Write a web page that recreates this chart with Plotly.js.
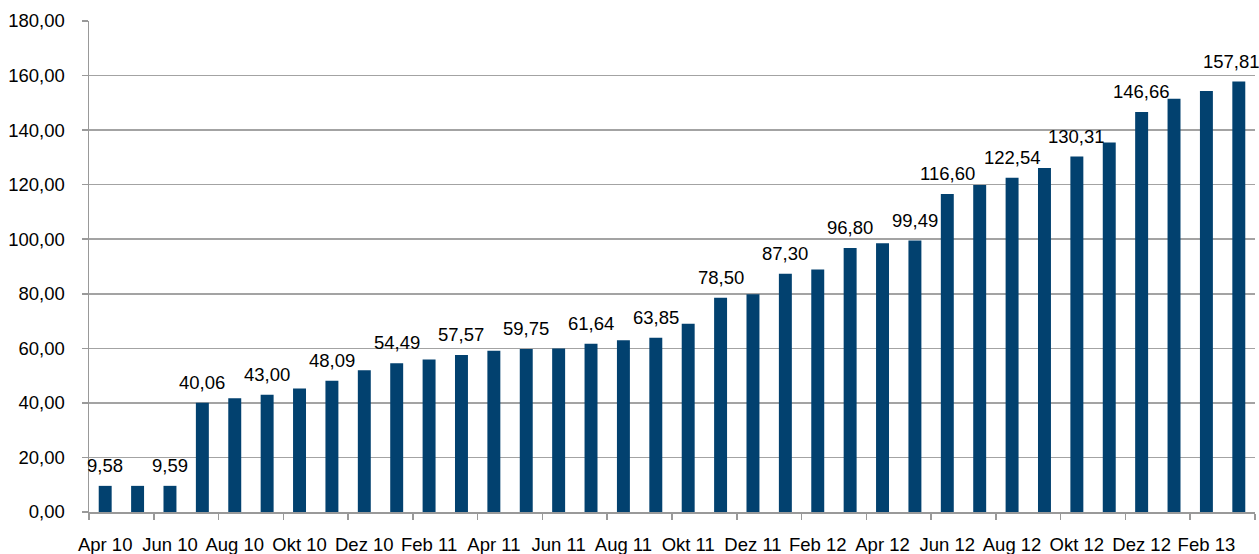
<!DOCTYPE html>
<html>
<head>
<meta charset="utf-8">
<script src="https://cdn.plot.ly/plotly-3.0.1.min.js"></script>
<style>html,body{margin:0;padding:0;background:#fff;}#chart{width:1259px;height:554px;}</style>
</head>
<body>
<div id="chart"></div>
<script>
// Categories (months)
const months = ['Apr 10','Mai 10','Jun 10','Jul 10','Aug 10','Sep 10','Okt 10','Nov 10','Dez 10','Jan 11','Feb 11','Mär 11',
  'Apr 11','Mai 11','Jun 11','Jul 11','Aug 11','Sep 11','Okt 11','Nov 11','Dez 11','Jan 12','Feb 12','Mär 12',
  'Apr 12','Mai 12','Jun 12','Jul 12','Aug 12','Sep 12','Okt 12','Nov 12','Dez 12','Jan 13','Feb 13','Mär 13'];
// Values
const values = [9.58, 9.58, 9.59, 40.06, 41.70, 43.00, 45.30, 48.09, 52.00, 54.49, 55.90, 57.57,
  59.10, 59.75, 59.90, 61.64, 63.00, 63.85, 69.00, 78.50, 79.80, 87.30, 88.90, 96.80,
  98.50, 99.49, 116.60, 119.90, 122.54, 126.10, 130.31, 135.50, 146.66, 151.50, 154.30, 157.81];
// Which bars carry a value label
const labeled = [1,0,1,1,0,1,0,1,0,1,0,1, 0,1,0,1,0,1,0,1,0,1,0,1, 0,1,1,0,1,0,1,0,1,0,0,1];

const fontFam = '"Liberation Sans", Arial, sans-serif';
const fs = 18.5;

const annotations = [];
months.forEach((m, i) => {
  if (!labeled[i]) return;
  annotations.push({
    x: m, y: values[i], xref: 'x', yref: 'y',
    text: values[i].toFixed(2).replace('.', ','),
    showarrow: false, yanchor: 'bottom', yshift: 8,
    xshift: (i === months.length - 1) ? -7 : 0,
    font: {family: fontFam, size: fs, color: '#000'}
  });
});

const trace = {
  type: 'bar', x: months, y: values,
  marker: {color: '#02416f', line: {width: 0}},
  hoverinfo: 'x+y'
};

const layout = {
  width: 1259, height: 554,
  margin: {l: 89, r: 4, t: 21, b: 42},
  paper_bgcolor: '#fff', plot_bgcolor: '#fff',
  separators: ',.',
  bargap: 0.6,
  showlegend: false,
  font: {family: fontFam, size: fs, color: '#000'},
  xaxis: {
    type: 'category', tickmode: 'linear', tick0: 0, dtick: 2,
    tickson: 'boundaries', ticks: 'outside', ticklen: 6, tickcolor: '#999', tickwidth: 1.5,
    showgrid: false, showline: true, linecolor: '#999', linewidth: 1.5,
    ticklabelstandoff: 15, tickangle: 0,
    tickfont: {family: fontFam, size: fs, color: '#000'},
    range: [-0.5, 35.5], fixedrange: true
  },
  yaxis: {
    range: [0, 180], tickmode: 'linear', tick0: 0, dtick: 20, tickformat: '.2f',
    showgrid: true, gridcolor: '#a3a3a3', gridwidth: 1.5,
    showline: true, linecolor: '#999', linewidth: 1.5,
    ticks: 'outside', ticklen: 6, tickcolor: '#999', tickwidth: 1.5,
    ticklabelstandoff: 13, zeroline: false,
    tickfont: {family: fontFam, size: fs, color: '#000'},
    fixedrange: true
  },
  annotations: annotations
};

Plotly.newPlot('chart', [trace], layout, {displayModeBar: false, staticPlot: true});
</script>
</body>
</html>
